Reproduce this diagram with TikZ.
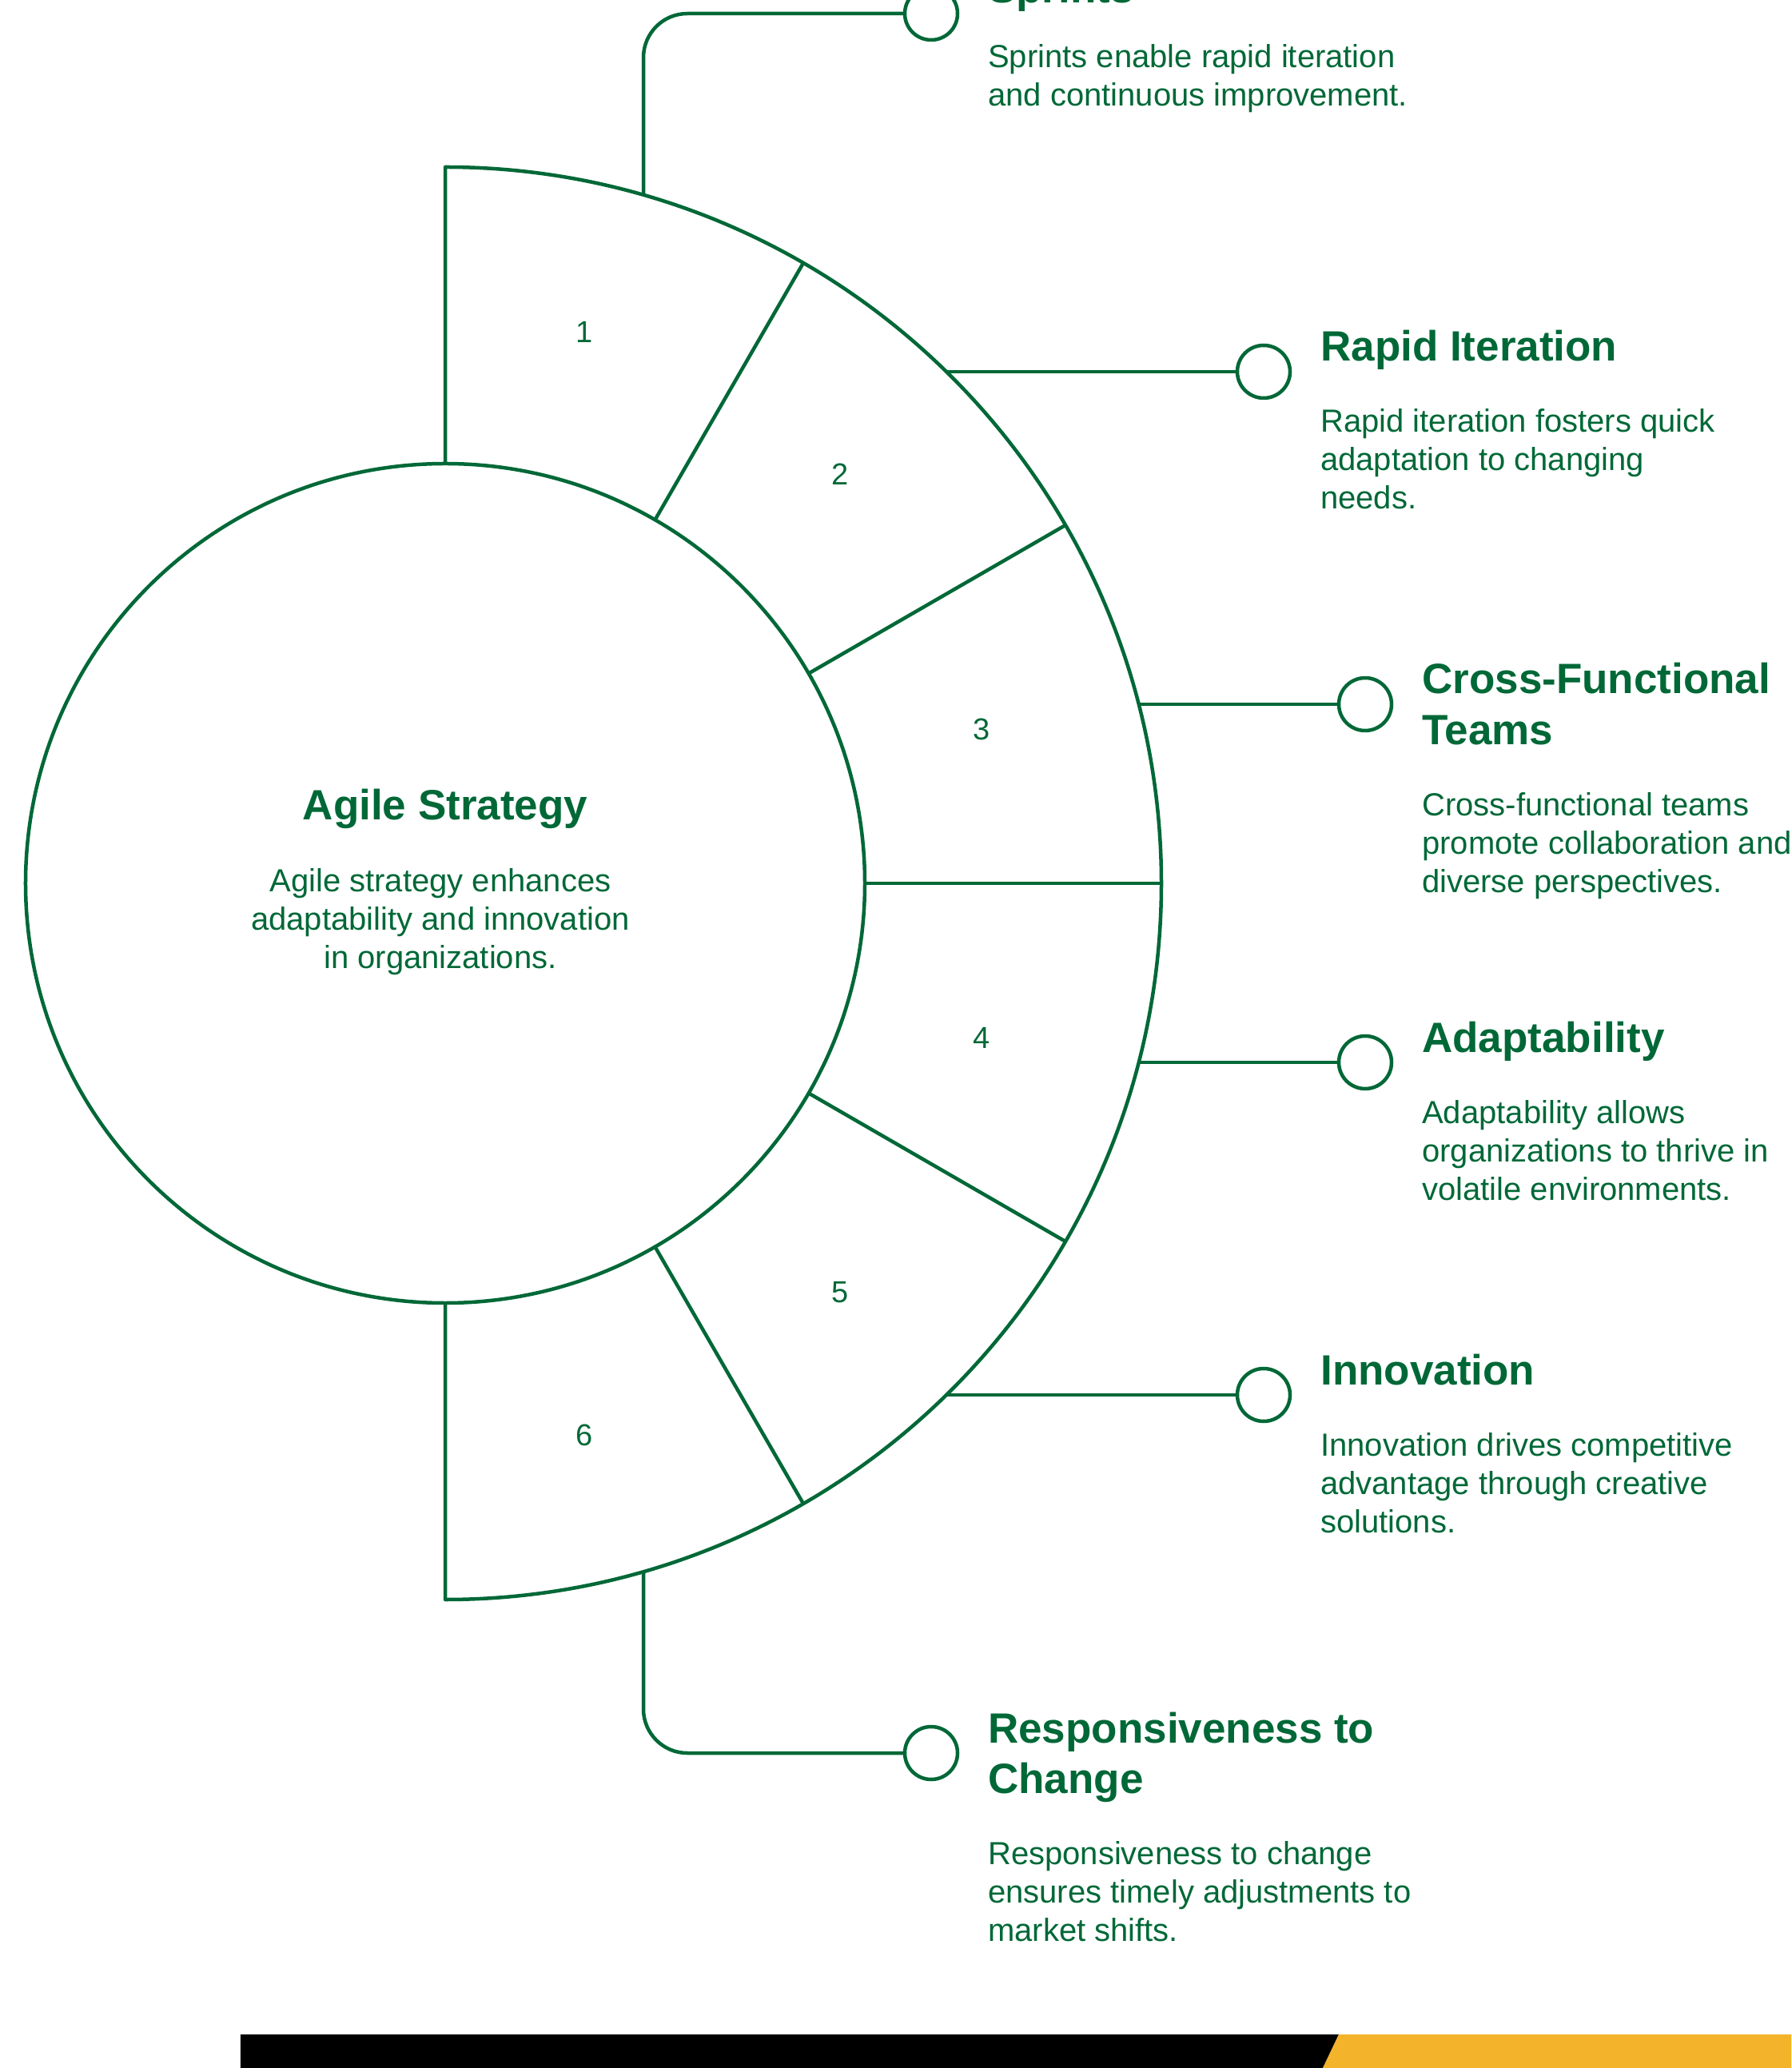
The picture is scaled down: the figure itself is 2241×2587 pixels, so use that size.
\documentclass[tikz,border=0pt]{standalone}
\usepackage{fontspec}
\setmainfont{Liberation Sans}
\usetikzlibrary{positioning}
\definecolor{agile}{HTML}{006837}
\definecolor{stripe}{HTML}{F3B32A}

\begin{document}
\begin{tikzpicture}[x=1pt,y=1pt,line width=4.5pt,color=agile]
\tikzstyle{hub}=[circle,draw=agile,minimum size=1050pt,inner sep=0pt]
\tikzstyle{dot}=[circle,draw=agile,fill=white,minimum size=66pt,inner sep=0pt]
\tikzstyle{title}=[inner sep=0pt,anchor=base west,align=left,font=\fontsize{53}{63.5}\selectfont\bfseries]
\tikzstyle{desc}=[inner sep=0pt,anchor=base west,align=left,font=\fontsize{40}{48}\selectfont]
\tikzstyle{num}=[inner sep=0pt,font=\fontsize{38}{46}\selectfont]
\useasboundingbox (-557,-1482) rectangle (1684,1105);

% footer stripe
\fill[black] (-256,-1440) -- (1118,-1440) -- (1098,-1482) -- (-256,-1482) -- cycle;
\fill[stripe] (1118,-1440) -- (1684,-1440) -- (1684,-1482) -- (1098,-1482) -- cycle;

% hub and the six segments
\node[hub] (hub) at (0,0) {};
\draw[line join=round] (90:525) -- (90:896) arc[start angle=90,end angle=-90,radius=896] -- (-90:525);
\foreach \a in {60,30,0,-30,-60}
  \draw (\a:525) -- (\a:896);
\foreach \i/\point in {
	1/{174,690},
	2/{494,512},
	3/{671,193},
	4/{671,-193},
	5/{494,-512},
	6/{174,-690}}
  \node[num] (n\i) at (\point) {\i};

% base anchor of a multi-line node sits on its last line
\node[inner sep=0pt,anchor=base,font=\fontsize{53}{63.5}\selectfont\bfseries] (head) at (0,79) {Agile Strategy};
\node[inner sep=0pt,anchor=base,align=center,font=\fontsize{40}{48}\selectfont] (body) at (-6,-107)
  {Agile strategy enhances\\adaptability and innovation\\in organizations.};

% start points on the outer arc
\foreach \name/\point in {
	s1/{248,861},
	s2/{627,640},
	s3/{867.5,224},
	s4/{867.5,-224},
	s5/{627,-640},
	s6/{248,-861}}
	\coordinate (\name) at (\point);

% dots, titles and texts (\k, \m = extra lines of title and text, \g = gap)
\foreach \i/\x/\y/\k/\m/\g/\ttl/\dsc in {
	1/608/1088/0/1/81/{Sprints}/{Sprints enable rapid iteration\\and continuous improvement.},
	2/1024/640/0/2/89/{Rapid Iteration}/{Rapid iteration fosters quick\\adaptation to changing\\needs.},
	3/1151/224/1/2/89/{Cross-Functional\\Teams}/{Cross-functional teams\\promote collaboration and\\diverse perspectives.},
	4/1151/-224/0/2/89/{Adaptability}/{Adaptability allows\\organizations to thrive in\\volatile environments.},
	5/1024/-640/0/2/89/{Innovation}/{Innovation drives competitive\\advantage through creative\\solutions.},
	6/608/-1088/1/2/89/{Responsiveness to\\Change}/{Responsiveness to change\\ensures timely adjustments to\\market shifts.}}
{
	\node[dot] (d\i) at (\x,\y) {};
	\node[title] (t\i) at (\x+69,\y+13-63.5*\k) {\ttl};
	\node[desc] (e\i) at (\x+69,\y+13-63.5*\k-\g-48*\m) {\dsc};
}

\draw[rounded corners=55pt] (s1) |- (d1);
\draw (s2) -- (d2);
\draw (s3) -- (d3);
\draw (s4) -- (d4);
\draw (s5) -- (d5);
\draw[rounded corners=55pt] (s6) |- (d6);
\end{tikzpicture}
\end{document}
